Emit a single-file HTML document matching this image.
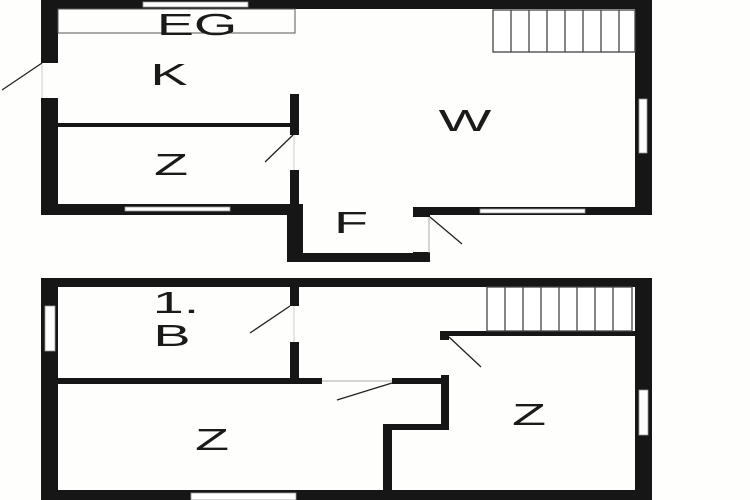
<!DOCTYPE html>
<html><head><meta charset="utf-8"><style>
html,body{margin:0;padding:0;background:#fff;}
svg{display:block}
text{font-family:"Liberation Sans",sans-serif;fill:#1a1a1a;}
</style></head><body>
<svg width="750" height="500" viewBox="0 0 750 500" xmlns="http://www.w3.org/2000/svg">
<rect width="750" height="500" fill="#fefefc"/>
<g fill="#161616">
<rect x="41" y="0" width="611" height="9"/>
<rect x="41" y="0" width="17" height="63"/>
<rect x="41" y="98" width="17" height="117"/>
<rect x="635" y="0" width="17" height="215"/>
<rect x="41" y="204" width="258" height="11"/>
<rect x="290" y="94" width="9" height="41"/>
<rect x="290" y="170" width="9" height="45"/>
<rect x="58" y="123" width="236" height="4"/>
<rect x="287" y="204" width="16" height="58"/>
<rect x="287" y="253" width="143" height="9"/>
<rect x="413" y="252" width="17" height="10"/>
<rect x="413" y="207" width="239" height="8"/>
<rect x="413" y="207" width="17" height="10"/>
<rect x="41" y="278" width="611" height="9"/>
<rect x="41" y="278" width="17" height="222"/>
<rect x="635" y="278" width="17" height="222"/>
<rect x="41" y="490" width="611" height="10"/>
<rect x="290" y="287" width="9" height="19"/>
<rect x="290" y="342" width="9" height="40"/>
<rect x="58" y="378" width="264" height="6"/>
<rect x="392" y="378" width="57" height="6"/>
<rect x="441" y="375" width="8" height="55"/>
<rect x="383" y="424" width="66" height="6"/>
<rect x="383" y="424" width="9" height="66"/>
<rect x="441" y="331" width="194" height="5"/>
<rect x="440" y="331" width="9" height="9"/>
</g>
<g fill="#fff" stroke="#999" stroke-width="0.8">
<rect x="143" y="2" width="105" height="5"/>
<rect x="125" y="207" width="105" height="4"/>
<rect x="480" y="209" width="105" height="4"/>
<rect x="639" y="99" width="8" height="54"/>
<rect x="45" y="306" width="10" height="45"/>
<rect x="639" y="390" width="9" height="45"/>
<rect x="191" y="493" width="105" height="7"/>
</g>
<g stroke="#555" stroke-width="1" fill="none">
<rect x="58" y="9" width="237" height="24"/>
<line x1="42" y1="63" x2="42" y2="98" stroke="#ccc"/>
<line x1="294" y1="135" x2="294" y2="170" stroke="#ccc"/>
<line x1="429" y1="217" x2="429" y2="253" stroke="#aaa"/>
<line x1="294" y1="306" x2="294" y2="342" stroke="#ccc"/>
<line x1="322" y1="381" x2="392" y2="381" stroke="#aaa"/>
</g>
<g stroke="#222" stroke-width="1.3">
<line x1="42" y1="63" x2="2" y2="90"/>
<line x1="293" y1="135" x2="265" y2="162"/>
<line x1="430" y1="217" x2="462" y2="244"/>
<line x1="290" y1="306" x2="250" y2="333"/>
<line x1="392" y1="383" x2="337" y2="400"/>
<line x1="449" y1="337" x2="481" y2="367"/>
</g>
<g stroke="#444" stroke-width="1.3" fill="#fff">
<rect x="493" y="10" width="142" height="42"/>
<rect x="487" y="287" width="145" height="44"/>
</g>
<g stroke="#444" stroke-width="1.3">
<line x1="511" y1="10" x2="511" y2="52"/><line x1="529" y1="10" x2="529" y2="52"/>
<line x1="547" y1="10" x2="547" y2="52"/><line x1="565" y1="10" x2="565" y2="52"/>
<line x1="583" y1="10" x2="583" y2="52"/><line x1="601" y1="10" x2="601" y2="52"/>
<line x1="619" y1="10" x2="619" y2="52"/>
<line x1="505" y1="287" x2="505" y2="331"/><line x1="523" y1="287" x2="523" y2="331"/>
<line x1="541" y1="287" x2="541" y2="331"/><line x1="559" y1="287" x2="559" y2="331"/>
<line x1="577" y1="287" x2="577" y2="331"/><line x1="595" y1="287" x2="595" y2="331"/>
<line x1="613" y1="287" x2="613" y2="331"/>
</g>
<g font-size="31" text-anchor="middle">
<text transform="translate(197,35) scale(1.8,1)">EG</text>
<text transform="translate(169,85) scale(1.8,1)">K</text>
<text transform="translate(171,175) scale(1.8,1)">Z</text>
<text transform="translate(465,131) scale(1.8,1)">W</text>
<text transform="translate(351,233) scale(1.8,1)">F</text>
<text transform="translate(176,313) scale(1.8,1)">1.</text>
<text transform="translate(172,346) scale(1.8,1)">B</text>
<text transform="translate(212,450) scale(1.8,1)">Z</text>
<text transform="translate(529,425) scale(1.8,1)">Z</text>
</g>
</svg>
</body></html>
